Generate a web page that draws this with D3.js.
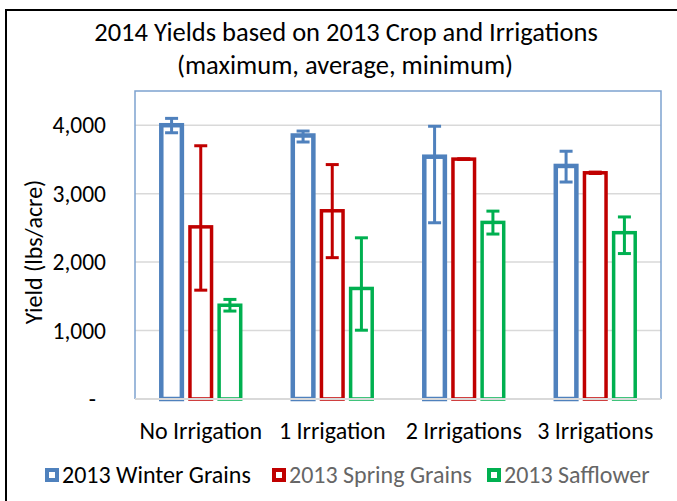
<!DOCTYPE html>
<html>
<head>
<meta charset="utf-8">
<script src="https://cdn.jsdelivr.net/npm/d3@7"></script>
<style>
  body { margin: 0; background: #fff; }
  svg { display: block; font-family: Carlito, Lato, sans-serif; }
</style>
</head>
<body>
<svg width="677" height="501"></svg>
<script>
// chart data
let categories = ["No Irrigation", "1 Irrigation", "2 Irrigations", "3 Irrigations"]
let series = ["2013 Winter Grains", "2013 Spring Grains", "2013 Safflower"]
let avgValues = [
  [4000, 3850, 3540, 3405],   // winter grains
  [2515, 2750, 3505, 3305],   // spring grains
  [1370, 1615, 2580, 2430]    // safflower
]
let maxValues = [
  [4100, 3915, 3985, 3620],
  [3700, 3425, 3510, 3315],
  [1455, 2355, 2745, 2660]
]
let minValues = [
  [3890, 3755, 2575, 3170],
  [1590, 2065, 3500, 3295],
  [1285, 1005, 2410, 2125]
]
let yTicks = [0, 1000, 2000, 3000, 4000]

let colors = ["#4f81bd", "#c00000", "#00b050"]
let strokes = [4.5, 3.5, 3.5]
let legendText = ["#000", "#666", "#666"]

let svg = d3.select("svg")

let plotLeft = 135, plotRight = 661, plotTop = 91, plotBottom = 399

let x0 = d3.scaleBand().domain(categories).range([plotLeft, plotRight])
let x1 = d3.scaleBand().domain(series).range([22, 109.5])
           .paddingInner(0.14).paddingOuter(0.07)
let yScale = d3.scaleLinear().domain([0, 4500]).range([plotBottom, plotTop])

// outer frame
svg.append("rect")
   .attr("x", 6).attr("y", 10)
   .attr("width", 700).attr("height", 520)
   .attr("fill", "none").attr("stroke", "#000").attr("stroke-width", 2)

// title
svg.append("text")
   .attr("x", 346).attr("y", 41)
   .attr("text-anchor", "middle")
   .style("font-size", "26.5px")
   .text("2014 Yields based on 2013 Crop and Irrigations")
svg.append("text")
   .attr("x", 345).attr("y", 74)
   .attr("text-anchor", "middle")
   .style("font-size", "26.5px")
   .text("(maximum, average, minimum)")

// gridlines
svg.append("g")
   .selectAll("line")
   .data(yTicks.slice(1))
   .enter()
   .append("line")
   .attr("x1", plotLeft).attr("x2", plotRight)
   .attr("y1", d => yScale(d)).attr("y2", d => yScale(d))
   .attr("stroke", "#d9d9d9").attr("stroke-width", 1.5)

// plot frame (left, top, right)
svg.append("path")
   .attr("d", `M${plotLeft},${plotBottom} V${plotTop} H${plotRight} V${plotBottom}`)
   .attr("fill", "none").attr("stroke", "#7ea2d0").attr("stroke-width", 1.5)

// y axis
let yAxis = d3.axisLeft(yScale)
              .tickValues(yTicks)
              .tickSize(0)
              .tickPadding(29)
              .tickFormat(d => d == 0 ? "-" : d3.format(",")(d))
let yg = svg.append("g")
   .attr("transform", "translate(" + plotLeft + ",0)")
   .call(yAxis)
yg.select(".domain").remove()
yg.selectAll("text")
  .style("font-size", "23.5px")
  .style("font-family", "Carlito, Lato, sans-serif")
  .attr("fill", "#000")
yg.selectAll(".tick").filter(d => d == 0).select("text").attr("dx", -10)

svg.append("text")
   .attr("transform", "rotate(-90)")
   .attr("x", -252).attr("y", 42)
   .attr("text-anchor", "middle")
   .style("font-size", "24px")
   .text("Yield (lbs/acre)")

// bars
let groups = svg.append("g")
   .selectAll("g")
   .data(series)
   .enter()
   .append("g")

groups.each(function (s, si) {
  let g = d3.select(this)
  let sw = strokes[si]
  categories.forEach((c, ci) => {
    let bx = x0(c) + x1(s)
    let v = avgValues[si][ci]
    g.append("rect")
     .attr("x", bx + sw / 2)
     .attr("y", yScale(v))
     .attr("width", x1.bandwidth() - sw)
     .attr("height", yScale(0) - yScale(v))
     .attr("fill", "#fff")
     .attr("stroke", colors[si])
     .attr("stroke-width", sw)
  })
})

// axis baseline
svg.append("line")
   .attr("x1", plotLeft).attr("x2", plotRight)
   .attr("y1", plotBottom).attr("y2", plotBottom)
   .attr("stroke", "#d9d9d9").attr("stroke-width", 2)

// error bars
groups.each(function (s, si) {
  let g = d3.select(this)
  categories.forEach((c, ci) => {
    let cx = x0(c) + x1(s) + x1.bandwidth() / 2
    let hi = yScale(maxValues[si][ci]), lo = yScale(minValues[si][ci])
    g.append("line")
     .attr("x1", cx).attr("x2", cx).attr("y1", hi).attr("y2", lo)
     .attr("stroke", colors[si]).attr("stroke-width", 3)
    ;[hi, lo].forEach(yy => {
      g.append("line")
       .attr("x1", cx - 6.5).attr("x2", cx + 6.5).attr("y1", yy).attr("y2", yy)
       .attr("stroke", colors[si]).attr("stroke-width", 3)
    })
  })
})

// x axis labels
let xAxis = d3.axisBottom(x0).tickSize(0).tickPadding(23)
let xg = svg.append("g")
   .attr("transform", "translate(0," + plotBottom + ")")
   .call(xAxis)
xg.select(".domain").remove()
xg.selectAll("text")
  .style("font-size", "24px")
  .style("font-family", "Carlito, Lato, sans-serif")
  .attr("fill", "#000")

// legend
let legendX = [45, 272, 487]
let legend = svg.append("g")
   .selectAll("g")
   .data(series)
   .enter()
   .append("g")
   .attr("transform", (d, i) => "translate(" + legendX[i] + ",468)")
legend.append("rect")
   .attr("x", 2).attr("y", 2)
   .attr("width", 10).attr("height", 10)
   .attr("fill", "#fff")
   .attr("stroke", (d, i) => colors[i])
   .attr("stroke-width", 4)
legend.append("text")
   .attr("x", 17).attr("y", 14.5)
   .style("font-size", "24px")
   .attr("fill", (d, i) => legendText[i])
   .text(d => d)
</script>
</body>
</html>
